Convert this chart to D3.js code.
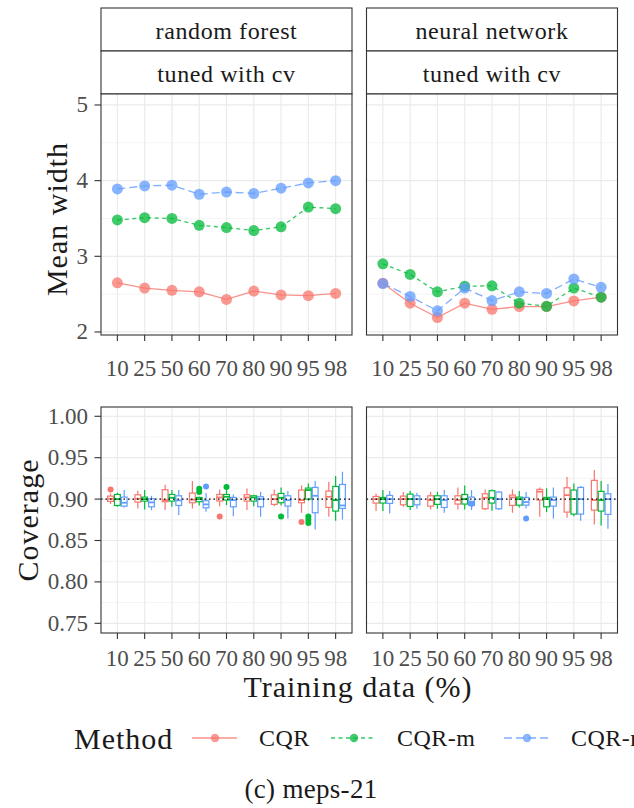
<!DOCTYPE html>
<html>
<head>
<meta charset="utf-8">
<script src="https://d3js.org/d3.v7.min.js"></script>
<style>
  body { margin: 0; background: #fff; }
</style>
</head>
<body>
<script>
// ---- data ----
const trainPct = ["10", "25", "50", "60", "70", "80", "90", "95", "98"];
const methods = ["CQR", "CQR-m", "CQR-r"];
const models = ["random forest", "neural network"];
const methodColors = ["#F8766D", "#00BA38", "#619CFF"];
const widthTicks = [2, 3, 4, 5];
const coverageTicks = [0.75, 0.80, 0.85, 0.90, 0.95, 1.00];

// mean width, top row
const rfWidthCQR  = [2.65, 2.58, 2.55, 2.53, 2.43, 2.54, 2.49, 2.48, 2.51];
const rfWidthCQRm = [3.48, 3.51, 3.50, 3.41, 3.38, 3.34, 3.39, 3.65, 3.63];
const rfWidthCQRr = [3.89, 3.93, 3.94, 3.82, 3.85, 3.83, 3.90, 3.97, 4.00];
const nnWidthCQR  = [2.645, 2.38, 2.19, 2.38, 2.30, 2.335, 2.335, 2.41, 2.46];
const nnWidthCQRm = [2.90, 2.76, 2.53, 2.605, 2.61, 2.38, 2.34, 2.58, 2.46];
const nnWidthCQRr = [2.64, 2.47, 2.28, 2.58, 2.415, 2.53, 2.51, 2.70, 2.59];

// coverage boxplots: [lower whisker, q1, median, q3, upper whisker]
const rfCovCQR = [
  [0.8940, 0.8972, 0.9004, 0.9036, 0.9069], [0.8887, 0.8964, 0.9004, 0.9052, 0.9101],
  [0.8867, 0.8968, 0.8988, 0.9113, 0.9173], [0.8887, 0.8956, 0.8992, 0.9073, 0.9218],
  [0.8915, 0.8976, 0.9020, 0.9056, 0.9117], [0.8867, 0.8976, 0.9020, 0.9052, 0.9129],
  [0.8915, 0.8936, 0.9000, 0.9052, 0.9117], [0.8835, 0.8956, 0.8988, 0.9109, 0.9165],
  [0.8786, 0.8899, 0.9028, 0.9097, 0.9210]];
const rfCovCQRm = [
  [0.8907, 0.8923, 0.9000, 0.9056, 0.9077], [0.8875, 0.8976, 0.9000, 0.9024, 0.9109],
  [0.8907, 0.8976, 0.9016, 0.9056, 0.9109], [0.8923, 0.8968, 0.9000, 0.9020, 0.9028],
  [0.8927, 0.8988, 0.9028, 0.9056, 0.9109], [0.8915, 0.8976, 0.9020, 0.9040, 0.9052],
  [0.8923, 0.8956, 0.9016, 0.9069, 0.9141], [0.8980, 0.9000, 0.9109, 0.9133, 0.9189],
  [0.8738, 0.8855, 0.8988, 0.9153, 0.9278]];
const rfCovCQRr = [
  [0.8899, 0.8915, 0.8956, 0.9024, 0.9109], [0.8867, 0.8907, 0.8960, 0.9004, 0.9040],
  [0.8807, 0.8923, 0.8984, 0.9040, 0.9109], [0.8847, 0.8895, 0.8936, 0.8980, 0.9073],
  [0.8794, 0.8907, 0.8988, 0.9020, 0.9056], [0.8786, 0.8907, 0.9000, 0.9028, 0.9089],
  [0.8766, 0.8915, 0.8988, 0.9040, 0.9097], [0.8633, 0.8835, 0.9040, 0.9141, 0.9218],
  [0.8754, 0.8887, 0.8923, 0.9177, 0.9330]];
const nnCovCQR = [
  [0.8855, 0.8952, 0.9000, 0.9032, 0.9069], [0.8907, 0.8931, 0.9000, 0.9036, 0.9085],
  [0.8875, 0.8915, 0.8988, 0.9040, 0.9089], [0.8875, 0.8940, 0.8988, 0.9040, 0.9141],
  [0.8867, 0.8883, 0.9016, 0.9064, 0.9117], [0.8835, 0.8923, 0.9020, 0.9048, 0.9117],
  [0.8786, 0.8988, 0.9089, 0.9117, 0.9141], [0.8774, 0.8843, 0.9048, 0.9137, 0.9266],
  [0.8694, 0.8867, 0.8988, 0.9226, 0.9351]];
const nnCovCQRm = [
  [0.8855, 0.8952, 0.9000, 0.9020, 0.9109], [0.8867, 0.8911, 0.9000, 0.9060, 0.9097],
  [0.8883, 0.8936, 0.9000, 0.9040, 0.9085], [0.8875, 0.8940, 0.9000, 0.9056, 0.9165],
  [0.8859, 0.8952, 0.9016, 0.9101, 0.9117], [0.8899, 0.8927, 0.9000, 0.9024, 0.9097],
  [0.8843, 0.8907, 0.9000, 0.9020, 0.9129], [0.8794, 0.8819, 0.9000, 0.9109, 0.9189],
  [0.8682, 0.8855, 0.8988, 0.9093, 0.9218]];
const nnCovCQRr = [
  [0.8827, 0.8948, 0.9000, 0.9044, 0.9097], [0.8883, 0.8931, 0.9000, 0.9040, 0.9077],
  [0.8835, 0.8899, 0.8988, 0.9040, 0.9109], [0.8867, 0.8923, 0.8968, 0.9024, 0.9109],
  [0.8867, 0.8883, 0.9000, 0.9085, 0.9097], [0.8887, 0.8927, 0.8964, 0.9020, 0.9085],
  [0.8766, 0.8915, 0.8988, 0.9024, 0.9141], [0.8738, 0.8819, 0.9000, 0.9141, 0.9157],
  [0.8641, 0.8815, 0.9000, 0.9064, 0.9181]];

// outliers: [training %, coverage]
const rfOutCQR  = [["10", 0.9117], ["70", 0.8790], ["95", 0.8722]];
const rfOutCQRm = [["60", 0.9125], ["60", 0.9085], ["70", 0.9145], ["90", 0.8790],
                   ["95", 0.8790], ["95", 0.8750], ["95", 0.8710]];
const rfOutCQRr = [["60", 0.9153]];
const nnOutCQR  = [];
const nnOutCQRm = [];
const nnOutCQRr = [["60", 0.8944], ["80", 0.8766]];

const widthData = [[rfWidthCQR, rfWidthCQRm, rfWidthCQRr], [nnWidthCQR, nnWidthCQRm, nnWidthCQRr]];
const covData = [[rfCovCQR, rfCovCQRm, rfCovCQRr], [nnCovCQR, nnCovCQRm, nnCovCQRr]];
const outData = [[rfOutCQR, rfOutCQRm, rfOutCQRr], [nnOutCQR, nnOutCQRm, nnOutCQRr]];
const dashes = [null, "4,3.5", "8,4"];

// ---- layout ----
const W = 634, H = 808;
const panelX = [[101, 352], [366.5, 617.5]];
const topTop = 94, topBot = 335, botTop = 407, botBot = 633;
const border = "#333333", grid = "#EBEBEB";
const serif = "'Liberation Serif', 'DejaVu Serif', 'Times New Roman', Times, serif";

const svg = d3.select("body").append("svg").attr("width", W).attr("height", H)
  .attr("font-family", serif);

// times is narrower than the latex font, so a bit of letter spacing
function label(sel, size, spacing, color) {
  return sel.style("font-family", serif).style("font-size", size + "px")
    .style("letter-spacing", (spacing || 0) + "px").style("fill", color || "#1a1a1a");
}

const yTop = d3.scaleLinear().domain([1.96, 5.145]).range([topBot, topTop]);
const yBot = d3.scaleLinear().domain([0.7383, 1.0112]).range([botBot, botTop]);

panelX.forEach((px, i) => {
  const x = d3.scalePoint().domain(trainPct).range(px).padding(0.6);
  const pw = px[1] - px[0];

  // strips
  [[8, 51, models[i]], [51, topTop, "tuned with cv"]].forEach(s => {
    svg.append("rect").attr("x", px[0]).attr("y", s[0]).attr("width", pw).attr("height", s[1] - s[0])
      .attr("fill", "#fff").attr("stroke", border).attr("stroke-width", 1.1);
    label(svg.append("text").attr("x", (px[0] + px[1]) / 2).attr("y", (s[0] + s[1]) / 2 + 1)
      .attr("text-anchor", "middle").attr("dominant-baseline", "central"), 24, 0.6).text(s[2]);
  });

  // ---- top: mean width ----
  const gT = svg.append("g");
  gT.append("rect").attr("x", px[0]).attr("y", topTop).attr("width", pw).attr("height", topBot - topTop).attr("fill", "#fff");
  d3.range(2.5, 5, 1).forEach(v => {
    gT.append("line").attr("x1", px[0]).attr("x2", px[1]).attr("y1", yTop(v)).attr("y2", yTop(v))
      .attr("stroke", grid).attr("stroke-width", 0.6);
  });
  widthTicks.forEach(v => {
    gT.append("line").attr("x1", px[0]).attr("x2", px[1]).attr("y1", yTop(v)).attr("y2", yTop(v))
      .attr("stroke", grid).attr("stroke-width", 1.2);
  });
  trainPct.forEach(c => {
    gT.append("line").attr("x1", x(c)).attr("x2", x(c)).attr("y1", topTop).attr("y2", topBot)
      .attr("stroke", grid).attr("stroke-width", 1.2);
  });
  widthData[i].forEach((vals, m) => {
    const line = d3.line().x((d, k) => x(trainPct[k])).y(d => yTop(d));
    gT.append("path").datum(vals).attr("d", line).attr("fill", "none")
      .attr("stroke", methodColors[m]).attr("stroke-width", 1.3).attr("opacity", 0.8)
      .attr("stroke-dasharray", dashes[m]);
  });
  widthData[i].forEach((vals, m) => {
    gT.selectAll(null).data(vals).enter().append("circle")
      .attr("cx", (d, k) => x(trainPct[k])).attr("cy", d => yTop(d)).attr("r", 5.5)
      .attr("fill", methodColors[m]).attr("opacity", 0.75);
  });
  gT.append("rect").attr("x", px[0]).attr("y", topTop).attr("width", pw).attr("height", topBot - topTop)
    .attr("fill", "none").attr("stroke", border).attr("stroke-width", 1.1);

  // ---- bottom: coverage ----
  const gB = svg.append("g");
  gB.append("rect").attr("x", px[0]).attr("y", botTop).attr("width", pw).attr("height", botBot - botTop).attr("fill", "#fff");
  [0.775, 0.825, 0.875, 0.925, 0.975].forEach(v => {
    gB.append("line").attr("x1", px[0]).attr("x2", px[1]).attr("y1", yBot(v)).attr("y2", yBot(v))
      .attr("stroke", grid).attr("stroke-width", 0.6);
  });
  coverageTicks.forEach(v => {
    gB.append("line").attr("x1", px[0]).attr("x2", px[1]).attr("y1", yBot(v)).attr("y2", yBot(v))
      .attr("stroke", grid).attr("stroke-width", 1.2);
  });
  trainPct.forEach(c => {
    gB.append("line").attr("x1", x(c)).attr("x2", x(c)).attr("y1", botTop).attr("y2", botBot)
      .attr("stroke", grid).attr("stroke-width", 1.2);
  });
  const dodge = x.step() * 0.75 / 3, bw = dodge * 0.85;
  covData[i].forEach((stats, m) => {
    const col = methodColors[m];
    stats.forEach((s, k) => {
      const cx = x(trainPct[k]) + (m - 1) * dodge;
      gB.append("line").attr("x1", cx).attr("x2", cx).attr("y1", yBot(s[0])).attr("y2", yBot(s[1]))
        .attr("stroke", col).attr("stroke-width", 1.2);
      gB.append("line").attr("x1", cx).attr("x2", cx).attr("y1", yBot(s[3])).attr("y2", yBot(s[4]))
        .attr("stroke", col).attr("stroke-width", 1.2);
      gB.append("rect").attr("x", cx - bw / 2).attr("width", bw)
        .attr("y", yBot(s[3])).attr("height", yBot(s[1]) - yBot(s[3]))
        .attr("fill", "#fff").attr("stroke", col).attr("stroke-width", 1.2);
      gB.append("line").attr("x1", cx - bw / 2).attr("x2", cx + bw / 2).attr("y1", yBot(s[2])).attr("y2", yBot(s[2]))
        .attr("stroke", col).attr("stroke-width", 1.8);
    });
    gB.selectAll(null).data(outData[i][m]).enter().append("circle")
      .attr("cx", d => x(d[0]) + (m - 1) * dodge).attr("cy", d => yBot(d[1])).attr("r", 3)
      .attr("fill", col);
  });
  gB.append("line").attr("x1", px[0]).attr("x2", px[1]).attr("y1", yBot(0.9)).attr("y2", yBot(0.9))
    .attr("stroke", "#000").attr("stroke-width", 1.3).attr("stroke-dasharray", "1.5,3");
  gB.append("rect").attr("x", px[0]).attr("y", botTop).attr("width", pw).attr("height", botBot - botTop)
    .attr("fill", "none").attr("stroke", border).attr("stroke-width", 1.1);

  // x axes
  [[topBot, 368], [botBot, 658]].forEach(a => {
    const ax = svg.append("g");
    trainPct.forEach(c => {
      ax.append("line").attr("x1", x(c)).attr("x2", x(c)).attr("y1", a[0]).attr("y2", a[0] + 6)
        .attr("stroke", border).attr("stroke-width", 1.1);
      label(ax.append("text").attr("x", x(c)).attr("y", a[1]).attr("text-anchor", "middle")
        .attr("dominant-baseline", "central"), 23, 0, "#4d4d4d").text(c);
    });
  });
});

// y axes
widthTicks.forEach(v => {
  svg.append("line").attr("x1", 94.5).attr("x2", 101).attr("y1", yTop(v)).attr("y2", yTop(v))
    .attr("stroke", border).attr("stroke-width", 1.1);
  label(svg.append("text").attr("x", 88).attr("y", yTop(v)).attr("text-anchor", "end")
    .attr("dominant-baseline", "central"), 23, 0, "#4d4d4d").text(v);
});
coverageTicks.forEach(v => {
  svg.append("line").attr("x1", 94.5).attr("x2", 101).attr("y1", yBot(v)).attr("y2", yBot(v))
    .attr("stroke", border).attr("stroke-width", 1.1);
  label(svg.append("text").attr("x", 88).attr("y", yBot(v)).attr("text-anchor", "end")
    .attr("dominant-baseline", "central"), 23, 0, "#4d4d4d").text(v.toFixed(2));
});

// titles
label(svg.append("text").attr("transform", "translate(56,219) rotate(-90)").attr("text-anchor", "middle")
  .attr("dominant-baseline", "central"), 30, 1).text("Mean width");
label(svg.append("text").attr("transform", "translate(27,520) rotate(-90)").attr("text-anchor", "middle")
  .attr("dominant-baseline", "central"), 30, 1).text("Coverage");
label(svg.append("text").attr("x", 358).attr("y", 686).attr("text-anchor", "middle")
  .attr("dominant-baseline", "central"), 30, 1).text("Training data (%)");

// legend
const ly = 738;
label(svg.append("text").attr("x", 74).attr("y", ly).attr("dominant-baseline", "central"), 30, 1).text("Method");
const keyX = [192, 331, 504];
const labX = [259, 397, 571];
methods.forEach((m, k) => {
  svg.append("line").attr("x1", keyX[k]).attr("x2", keyX[k] + 45).attr("y1", ly).attr("y2", ly)
    .attr("stroke", methodColors[k]).attr("stroke-width", 1.3).attr("opacity", 0.8)
    .attr("stroke-dasharray", dashes[k]);
  svg.append("circle").attr("cx", keyX[k] + 23).attr("cy", ly).attr("r", 4.2)
    .attr("fill", methodColors[k]).attr("opacity", 0.75);
  label(svg.append("text").attr("x", labX[k]).attr("y", ly).attr("dominant-baseline", "central"), 24, 0.5).text(m);
});

label(svg.append("text").attr("x", 311).attr("y", 789).attr("text-anchor", "middle")
  .attr("dominant-baseline", "central"), 27, 0.3).text("(c) meps-21");
</script>
</body>
</html>
